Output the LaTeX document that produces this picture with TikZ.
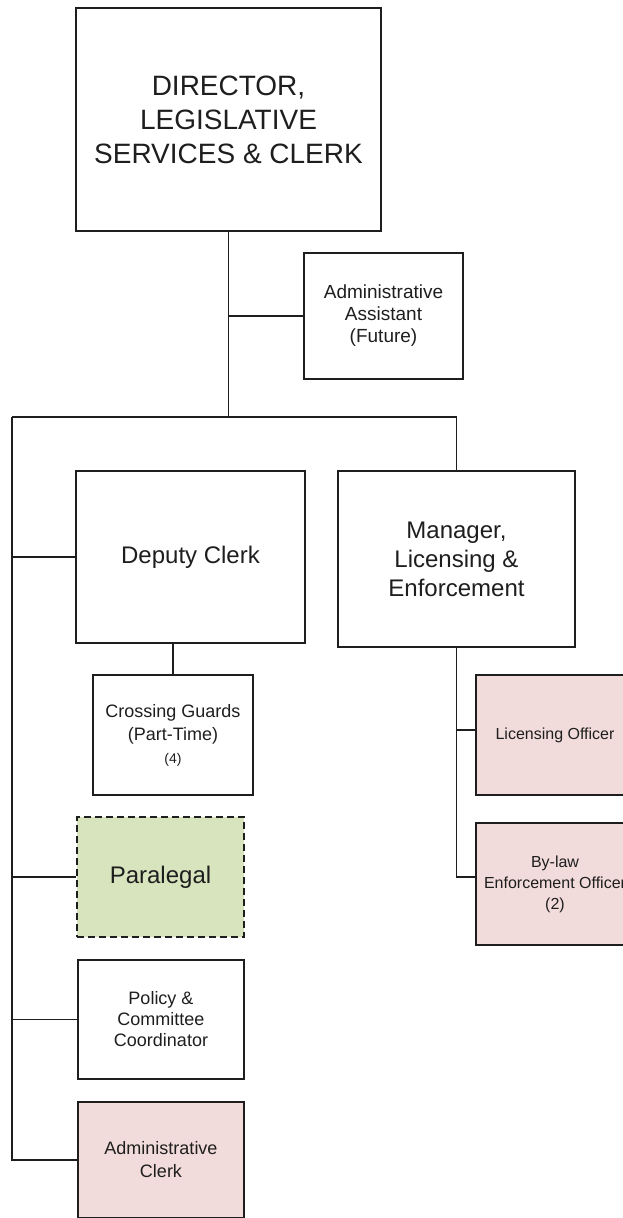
\documentclass[tikz,border=0pt]{standalone}
\usepackage{fontspec}
\setmainfont{Liberation Sans}
\definecolor{pinkfill}{HTML}{F2DCDB}
\definecolor{greenfill}{HTML}{D7E4BD}
\definecolor{ink}{HTML}{1E1E1E}
\begin{document}
\begin{tikzpicture}[x=1pt,y=-1pt,
  box/.style={draw=ink, line width=1.6pt, rectangle, align=center, text=ink, inner sep=2pt},
  link/.style={draw=ink, line width=1.6pt},
  pinkbox/.style={box, fill=pinkfill},
  greenbox/.style={box, fill=greenfill, dashed, dash pattern=on 7pt off 4pt}]
\useasboundingbox (0,0) rectangle (623,1218);
\clip (0,0) rectangle (623,1218);

% boxes
\node[box, minimum width=305pt, minimum height=223pt, font=\fontsize{28}{34}\selectfont]
  (dir) at (228.5,119.5) {DIRECTOR,\\LEGISLATIVE\\SERVICES \& CLERK};
\node[box, minimum width=159pt, minimum height=126pt, font=\fontsize{19}{22}\selectfont]
  (asst) at (383.5,316) {Administrative\\Assistant\\(Future)};
\node[box, minimum width=229pt, minimum height=172pt, font=\fontsize{24}{29}\selectfont]
  (dep) at (190.5,557) {Deputy Clerk};
\node[box, minimum width=237pt, minimum height=176pt, font=\fontsize{24}{29}\selectfont]
  (mgr) at (456.5,559) {Manager,\\Licensing \&\\Enforcement};
\node[box, minimum width=160pt, minimum height=120pt, font=\fontsize{18}{23}\selectfont]
  (cross) at (173,735) {Crossing Guards\\(Part-Time)\\{\fontsize{14}{23}\selectfont(4)}};
\node[pinkbox, minimum width=158pt, minimum height=120pt, font=\fontsize{16}{21}\selectfont]
  (lic) at (555,735) {Licensing Officer};
\node[pinkbox, minimum width=158pt, minimum height=122pt, font=\fontsize{16}{21}\selectfont]
  (bylaw) at (555,884) {By-law\\Enforcement Officer\\(2)};
\node[greenbox, minimum width=167pt, minimum height=120pt, font=\fontsize{24}{29}\selectfont]
  (para) at (160.5,877) {Paralegal};
\node[box, minimum width=166pt, minimum height=119pt, font=\fontsize{18}{21}\selectfont]
  (policy) at (161,1019.5) {Policy \&\\Committee\\Coordinator};
\node[pinkbox, minimum width=166pt, minimum height=116pt, font=\fontsize{18}{23}\selectfont]
  (clerk) at (161,1160) {Administrative\\Clerk};

% junction points of the tree
\coordinate (trunk) at (228.5,417);
\coordinate (leftbus) at (12,417);
\coordinate (mgrbus) at (456.5,417);

% director down to the main bus, with the assistant branching off
\draw[link] (dir.south) -- (trunk);
\draw[link] (asst.west) -- (asst.west -| dir.south);
\draw[link] (leftbus) -- (mgrbus) -- (mgr.north);

% left spine with its branches
\draw[link] (leftbus) -- (leftbus |- clerk.west) -- (clerk.west);
\draw[link] (dep.west -| leftbus) -- (dep.west);
\draw[link] (para.west -| leftbus) -- (para.west);
\draw[link] (policy.west -| leftbus) -- (policy.west);
\draw[link] (cross.north) -- (cross.north |- dep.south);

% manager's branches
\coordinate (lictap) at (476,730);
\coordinate (bylawtap) at (476,877);
\draw[link] (mgr.south) -- (mgr.south |- bylawtap) -- (bylawtap);
\draw[link] (lictap -| mgr.south) -- (lictap);
\end{tikzpicture}
\end{document}
